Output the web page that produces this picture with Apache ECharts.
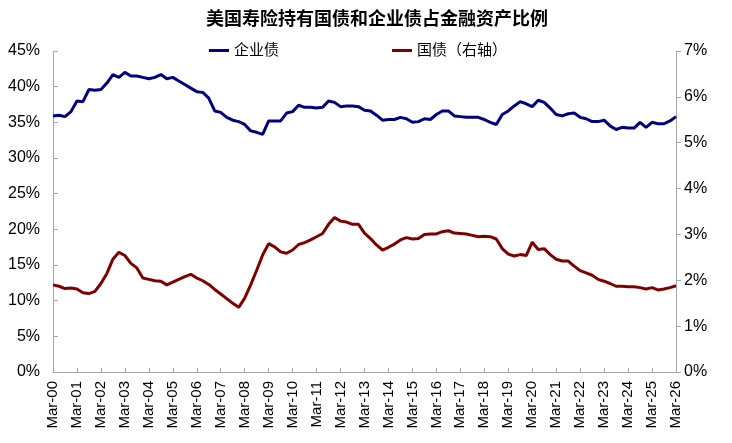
<!DOCTYPE html>
<html>
<head>
<meta charset="utf-8">
<script src="https://cdn.jsdelivr.net/npm/echarts@6/dist/echarts.min.js"></script>
<style>
  html, body { margin: 0; padding: 0; background: #fff; }
  #chart { width: 732px; height: 443px; }
</style>
</head>
<body>
<div id="chart"></div>
<script>
// 季度：2000Q1 - 2026Q1
const years = ['00','01','02','03','04','05','06','07','08','09','10','11','12','13',
  '14','15','16','17','18','19','20','21','22','23','24','25','26']
const months = ['Mar', 'Jun', 'Sep', 'Dec']
const categories = []
years.forEach(function (y, i) {
  months.forEach(function (m) {
    if (i < years.length - 1 || m === 'Mar') categories.push(m + '-' + y)
  })
})

// 企业债占比（左轴，%）
const corpBond = [
  35.9, 36.0, 35.8, 36.5, 38.0, 37.9, 39.6, 39.5, 39.6, 40.5, 41.7, 41.3,
  42.0, 41.5, 41.5, 41.3, 41.1, 41.3, 41.7, 41.1, 41.3, 40.8, 40.3, 39.8,
  39.3, 39.2, 38.4, 36.6, 36.4, 35.7, 35.3, 35.1, 34.7,
  33.8, 33.6, 33.3, 35.2, 35.2, 35.2, 36.3, 36.5, 37.4, 37.1, 37.1, 37.0,
  37.1, 38.0, 37.8, 37.2, 37.3, 37.3, 37.2, 36.7, 36.6, 36.0, 35.3, 35.4,
  35.4, 35.7, 35.5, 35.0, 35.1, 35.5, 35.4, 36.1, 36.6, 36.6, 35.9, 35.8,
  35.7, 35.7, 35.7, 35.4,
  35.0, 34.7, 36.1, 36.6, 37.3, 37.9, 37.6, 37.2, 38.1, 37.8, 37.0, 36.1,
  35.9, 36.2, 36.3, 35.7, 35.5, 35.1, 35.1, 35.3, 34.5, 34.0, 34.3, 34.2,
  34.2, 35.0, 34.3, 35.0, 34.8, 34.8, 35.2, 35.8
]

// 国债占比（右轴，%）
const treasury = [
  1.90, 1.87, 1.82, 1.83, 1.81, 1.73, 1.71, 1.76, 1.93, 2.15, 2.46, 2.61,
  2.54, 2.37, 2.27, 2.05, 2.02, 1.99, 1.98, 1.90, 1.96, 2.02, 2.08, 2.13,
  2.05, 1.99, 1.91, 1.80, 1.70, 1.60, 1.50, 1.41, 1.61,
  1.90, 2.22, 2.55, 2.80, 2.73, 2.62, 2.59, 2.66, 2.78, 2.82, 2.88, 2.95,
  3.02, 3.22, 3.37, 3.29, 3.27, 3.22, 3.22, 3.03, 2.91, 2.77, 2.66, 2.72,
  2.79, 2.88, 2.93, 2.90, 2.91, 3.00, 3.01, 3.01, 3.06, 3.08, 3.03, 3.02,
  3.01, 2.98, 2.95, 2.96,
  2.95, 2.90, 2.69, 2.57, 2.53, 2.56, 2.54, 2.83, 2.67, 2.69, 2.56, 2.46,
  2.42, 2.42, 2.31, 2.21, 2.16, 2.11, 2.02, 1.98, 1.93, 1.87, 1.87, 1.86,
  1.86, 1.84, 1.81, 1.84, 1.79, 1.81, 1.84, 1.88
]

const FONT = '"Liberation Sans", Arial, "Noto Sans CJK SC", sans-serif'
const axisColor = '#a6a6a6'

let myChart = echarts.init(document.getElementById('chart'))

const option = {
  animation: false,
  backgroundColor: '#fff',
  textStyle: { fontFamily: FONT },
  title: {
    text: '美国寿险持有国债和企业债占金融资产比例',
    left: 206,
    top: 11,
    padding: 0,
    textStyle: { fontSize: 18, fontWeight: 'bold', color: '#000', fontFamily: FONT }
  },
  legend: {
    left: 209,
    top: 43,
    padding: 0,
    icon: 'rect',
    itemWidth: 20,
    itemHeight: 3,
    itemGap: 113,
    textStyle: { fontSize: 15, color: '#000', fontFamily: FONT },
    data: ['企业债', '国债（右轴）']
  },
  grid: {
    left: 53,
    right: 56,
    top: 51,
    bottom: 71,
    outerBoundsMode: 'none'
  },
  xAxis: {
    type: 'category',
    data: categories,
    boundaryGap: false,
    axisLine: { lineStyle: { color: axisColor } },
    axisTick: { inside: true, length: 4, interval: 3, lineStyle: { color: axisColor } },
    axisLabel: {
      interval: 3,
      rotate: 90,
      margin: 9,
      fontSize: 15,
      color: '#000',
      fontFamily: FONT
    },
    splitLine: { show: false }
  },
  yAxis: [
    {
      type: 'value',
      min: 0,
      max: 45,
      interval: 5,
      axisLine: { show: true, lineStyle: { color: axisColor } },
      axisTick: { show: true, inside: true, length: 5, lineStyle: { color: axisColor } },
      axisLabel: { formatter: '{value}%', fontSize: 16, color: '#000', margin: 13, fontFamily: FONT },
      splitLine: { show: false }
    },
    {
      type: 'value',
      min: 0,
      max: 7,
      interval: 1,
      position: 'right',
      axisLine: { show: true, lineStyle: { color: axisColor } },
      axisTick: { show: true, inside: false, length: 5, lineStyle: { color: axisColor } },
      axisLabel: { formatter: '{value}%', fontSize: 16, color: '#000', margin: 8, fontFamily: FONT },
      splitLine: { show: false }
    }
  ],
  series: [
    {
      name: '企业债',
      type: 'line',
      yAxisIndex: 0,
      data: corpBond,
      symbol: 'none',
      color: '#000080',
      lineStyle: { width: 3, color: '#000080' }
    },
    {
      name: '国债（右轴）',
      type: 'line',
      yAxisIndex: 1,
      data: treasury,
      symbol: 'none',
      color: '#800000',
      lineStyle: { width: 3, color: '#800000' }
    }
  ]
}

myChart.setOption(option)
</script>
</body>
</html>
